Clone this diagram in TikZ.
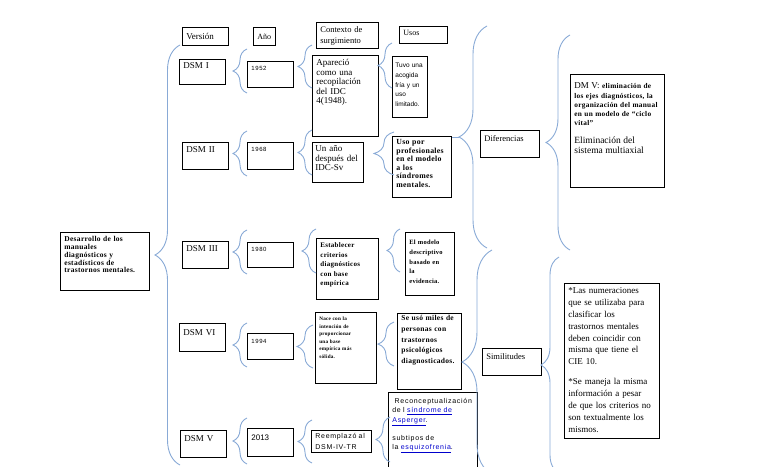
\documentclass[tikz,border=0pt]{standalone}
\usepackage{fontspec}
\setmainfont{Liberation Serif}
\setsansfont{Liberation Sans}
\newfontfamily\spacedserif[LetterSpace=4]{Liberation Serif}
\newfontfamily\spacedsans[LetterSpace=10]{Liberation Sans}
\usepackage{xcolor}
\usepackage{tikz}
\usetikzlibrary{decorations.pathreplacing}

\definecolor{bracecol}{RGB}{137,170,214}
\definecolor{linkblue}{RGB}{0,0,204}
\newcommand{\weblink}[1]{\textcolor{linkblue}{\underline{#1}}}

\begin{document}
\begin{tikzpicture}[x=1pt, y=-1pt,
  box/.style={draw, line width=0.8pt, anchor=north west, align=left, inner xsep=4pt, inner ysep=2pt},
  sz/.style n args={3}{text width=#1, text height=#2, text depth=#3},
  ser/.style 2 args={font=\fontsize{#1}{#2}\selectfont},
  sps/.style 2 args={font=\spacedserif\bfseries\fontsize{#1}{#2}\selectfont},
  sans/.style 2 args={font=\sffamily\fontsize{#1}{#2}\selectfont},
  ssp/.style 2 args={font=\spacedsans\fontsize{#1}{#2}\selectfont},
  brc/.style={decorate, decoration={brace, amplitude=#1}, draw=bracecol, line width=0.9pt},
  link/.style={draw=bracecol, line width=0.9pt}
]
\useasboundingbox (0,0) rectangle (768,466);
\clip (0,0) rectangle (768,466);

% headers
\node[box, sz={38pt}{10pt}{4pt}, ser={9}{10}] (version) at (182,27) {Versión};
\node[box, sz={14pt}{10pt}{4pt}, ser={8}{10}] (anio) at (253,27) {Año};
\node[box, sz={54pt}{8pt}{14pt}, ser={8.5}{11}] (contexto) at (316,22) {Contexto de\\surgimiento};
\node[box, sz={40pt}{7.5pt}{5.5pt}, ser={8}{10}] (usos) at (399,26) {Usos};

% root
\node[box, sz={81pt}{7.5pt}{46.5pt}, sps={7.5}{7.75}] (desa) at (60,232) {Desarrollo de los\\manuales\\diagnósticos y\\estadísticos de\\trastornos mentales.};

% versions
\node[box, sz={38pt}{6.7pt}{14.3pt}, ser={9}{10}] (dsm1) at (179,59) {DSM I};
\node[box, sz={38pt}{8.3pt}{14.7pt}, ser={9}{10}] (dsm2) at (182,142) {DSM II};
\node[box, sz={38pt}{8pt}{15pt}, ser={9}{10}] (dsm3) at (182,241) {DSM III};
\node[box, sz={38pt}{10pt}{14pt}, ser={9}{10}] (dsm6) at (179,323) {DSM VI};
\node[box, sz={38pt}{9.5pt}{13.5pt}, ser={9}{10}] (dsm5) at (180,430) {DSM V};

% years
\node[box, sz={38pt}{7pt}{15pt}, ssp={6}{7}] (a1952) at (247,61) {1952};
\node[box, sz={38pt}{7pt}{16pt}, ssp={6}{7}] (a1968) at (247,142) {1968};
\node[box, sz={38pt}{7pt}{14pt}, ssp={6}{7}] (a1980) at (247,242) {1980};
\node[box, sz={38pt}{8.5pt}{13.5pt}, ssp={6}{7}] (a1994) at (247,333) {1994};
\node[box, sz={38pt}{10pt}{14pt}, sans={8}{9}] (a2013) at (247,428) {2013};

% contexto de surgimiento
\node[box, sz={58pt}{8pt}{69pt}, ser={9}{9.6}] (ctx1) at (312,55) {Apareció\\como una\\recopilación\\del IDC\\4(1948).};
\node[box, sz={45pt}{7.5pt}{28.5pt}, ser={9}{9.5}, inner xsep=3pt] (ctx2) at (312,142) {Un año\\después del\\IDC-Sv};
\node[box, sz={54pt}{7.5pt}{49.5pt}, sps={7}{9.4}] (ctx3) at (316,238) {Establecer\\criterios\\diagnósticos\\con base\\empírica};
\node[box, sz={53pt}{6pt}{61pt}, sps={5.2}{7.6}] (ctx4) at (315,312) {Nace con la\\intención de\\proporcionar\\una base\\empírica más\\sólida.};
\node[box, sz={52pt}{6.5pt}{11.5pt}, ssp={7}{11}] (ctx5) at (311,430) {Reemplazó al\\DSM-IV-TR};

% usos
\node[box, sz={29pt}{9.5pt}{47.5pt}, sans={6.5}{9.6}, inner xsep=3pt] (uso1) at (392,56) {Tuvo una\\acogida\\fría y un\\uso\\limitado.};
\node[box, sz={51pt}{6pt}{51pt}, sps={7.8}{8.6}] (uso2) at (392,136) {Uso por\\profesionales\\en el modelo\\a los\\síndromes\\mentales.};
\node[box, sz={41pt}{10pt}{49pt}, sps={6.5}{9.8}] (uso3) at (405,232) {El modelo\\descriptivo\\basado en\\la\\evidencia.};
\node[box, sz={56pt}{5.5pt}{66.5pt}, sps={7.5}{10.6}] (uso4) at (397,313) {Se usó miles de\\personas con\\trastornos\\psicológicos\\diagnosticados.};
\node[box, sz={81pt}{9pt}{67pt}, ssp={7}{9.3}] (uso5) at (388,392) {\ Reconceptualización\\de l \weblink{síndrome de}\\\weblink{Asperger}.\\[9pt]subtipos de\\la \weblink{esquizofrenia}.};

% diferencias / similitudes
\node[box, sz={51pt}{9.5pt}{13.5pt}, ser={8.5}{10}] (dif) at (480,130) {Diferencias};
\node[box, sz={51pt}{9pt}{14pt}, ser={8.5}{10}] (sim) at (482,348) {Similitudes};
\node[box, sz={86pt}{12.5pt}{96.5pt}, sps={7.3}{9.2}] (dmv) at (570,74) {{\rmfamily\mdseries\fontsize{9}{9.2}\selectfont DM V:} eliminación de\\los ejes diagnósticos, la\\organización del manual\\en un modelo de “ciclo\\vital”\\[9pt]{\rmfamily\mdseries\fontsize{9.5}{9.2}\selectfont Eliminación del\\sistema multiaxial}};
\node[box, sz={87pt}{8pt}{143pt}, ser={9}{11.9}] (simtxt) at (564,283) {*Las numeraciones\\que se utilizaba para\\clasificar los\\trastornos mentales\\deben coincidir con\\misma que tiene el\\CIE 10.\\[8pt]*Se maneja la misma\\información a pesar\\de que los criterios no\\son textualmente los\\mismos.};

% braces
\draw[brc=25] (180,465) -- (180,45);
\draw[brc=14] (247,93) -- (247,49);
\draw[brc=14] (247,176) -- (247,131);
\draw[brc=14] (247,274) -- (247,230);
\draw[brc=14] (247,367) -- (247,323);
\draw[brc=14] (247,464) -- (247,418);
\draw[brc=14] (312,88) -- (312,45);
\draw[brc=14] (392,88) -- (392,43);
\draw[brc=14] (312,175) -- (312,130);
\draw[brc=20] (394,175) -- (394,132);
\draw[brc=14] (316,273) -- (316,229);
\draw[brc=13] (400,272) -- (400,229);
\draw[brc=16] (313,368) -- (313,325);
\draw[brc=16] (394,366) -- (394,322);
\draw[brc=14] (312,463) -- (312,420);
\draw[brc=14] (390,462) -- (390,417);
\draw[brc=28] (487,248) -- (487,26);
\draw[brc=24] (570,250) -- (570,35);
\draw[brc=30] (492,474) -- (492,250);
\draw[brc=18] (559,473) -- (559,257);

% tips of the two big braces
\coordinate (diftip) at (459,137);
\coordinate (simtip) at (462,362);
\draw[link] (uso2.east |- diftip) -- (diftip);
\draw[link] (uso4.east |- simtip) -- (simtip);
\end{tikzpicture}
\end{document}
